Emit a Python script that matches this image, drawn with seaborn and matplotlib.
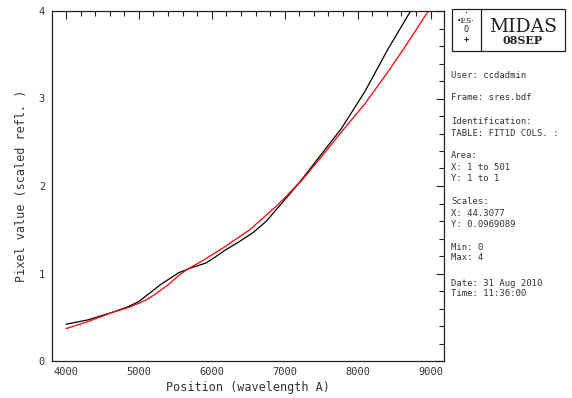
import matplotlib
matplotlib.use("Agg")
import matplotlib.pyplot as plt
from matplotlib.patches import Rectangle
import seaborn as sns
import pandas as pd
from matplotlib.ticker import MultipleLocator

# ---- data ----
black_x = [4000, 4300, 4650, 4850, 5000, 5100, 5200, 5300, 5400, 5550, 5700,
           5920, 6050, 6170, 6370, 6570, 6750, 6900, 7060, 7230, 7500, 7780,
           8100, 8420, 8720, 8800]
black_y = [0.42, 0.47, 0.56, 0.62, 0.68, 0.745, 0.81, 0.875, 0.93, 1.01, 1.06,
           1.12, 1.19, 1.26, 1.36, 1.47, 1.60, 1.745, 1.90, 2.07, 2.36, 2.66,
           3.08, 3.57, 3.99, 4.12]
red_x = [4000, 4300, 4650, 4850, 5000, 5100, 5200, 5300, 5400, 5475, 5550,
         5650, 5920, 6150, 6520, 6900, 7230, 7500, 7800, 8100, 8420, 8650,
         8970, 9000]
red_y = [0.37, 0.45, 0.56, 0.61, 0.66, 0.70, 0.75, 0.81, 0.87, 0.925, 0.98,
         1.04, 1.17, 1.29, 1.50, 1.78, 2.06, 2.33, 2.64, 2.94, 3.31, 3.59,
         4.00, 4.04]
x_ticks = [4000, 5000, 6000, 7000, 8000, 9000]
y_ticks = [0, 1, 2, 3, 4]
info_lines = [
    ("User: ccdadmin", 75),
    ("Frame: sres.bdf", 97),
    ("Identification:", 122),
    ("TABLE: FIT1D COLS. :", 133),
    ("Area:", 155),
    ("X: 1 to 501", 167),
    ("Y: 1 to 1", 178),
    ("Scales:", 202),
    ("X: 44.3077", 214),
    ("Y: 0.0969089", 225),
    ("Min: 0", 247),
    ("Max: 4", 258),
    ("Date: 31 Aug 2010", 283),
    ("Time: 11:36:00", 294),
]

df = pd.concat([
    pd.DataFrame({"x": black_x, "y": black_y, "s": "data"}),
    pd.DataFrame({"x": red_x, "y": red_y, "s": "fit"}),
])

sns.set_style("white")
plt.rcParams["font.family"] = ["DejaVu Sans Mono", "DejaVu Sans"]

W, H = 572, 398
fig = plt.figure(figsize=(W / 100, H / 100), dpi=100)
ax = fig.add_axes([52 / W, 37 / H, 392 / W, 350 / H])

sns.lineplot(data=df, x="x", y="y", hue="s", palette={"data": "black", "fit": "red"},
             linewidth=0.9, legend=False, ax=ax, sort=True, estimator=None)

ax.set_xlim(3808, 9185)
ax.set_ylim(0, 4)
ax.set_xticks(x_ticks)
ax.set_yticks(y_ticks)
ax.xaxis.set_minor_locator(MultipleLocator(200))
ax.yaxis.set_minor_locator(MultipleLocator(0.2))
ax.tick_params(which="both", direction="in", top=True, right=True,
               color="#222222", width=0.8)
ax.tick_params(which="major", length=6)
ax.tick_params(which="minor", length=3.5)
ax.tick_params(axis="x", which="major", labelsize=7.5, pad=4, labelcolor="#333333")
ax.tick_params(axis="y", which="major", labelsize=7.5, pad=5, labelcolor="#333333")
for sp in ax.spines.values():
    sp.set_color("#222222")
    sp.set_linewidth(0.9)

ax.set_xlabel("Position (wavelength A)", fontsize=8.5, color="#333333", labelpad=3)
ax.set_ylabel("Pixel value (scaled refl. )", fontsize=8.5, color="#333333", labelpad=8)

# ---- MIDAS header box ----
def fx(px):
    return px / W

def fy(py):
    return 1 - py / H

fig.patches.append(Rectangle((fx(452), fy(51)), (565 - 452) / W, (51 - 9) / H,
                             transform=fig.transFigure, fill=False,
                             edgecolor="#222222", linewidth=0.9))
fig.add_artist(plt.Line2D([fx(481), fx(481)], [fy(9), fy(51)],
                          transform=fig.transFigure, color="#222222", linewidth=0.9))
fig.text(fx(523), fy(27), "MIDAS", family="DejaVu Serif", fontsize=13.5,
         ha="center", va="center", color="#222222")
fig.text(fx(523), fy(40), "08SEP", family="DejaVu Serif", fontsize=8,
         fontweight="bold", ha="center", va="center", color="#222222")
fig.text(fx(466), fy(14), "·", fontsize=6, ha="center", va="center", color="#222222")
fig.text(fx(466), fy(21), "•ES·", family="DejaVu Serif", fontsize=5.5,
         ha="center", va="center", color="#222222")
fig.text(fx(466), fy(30), "O", fontsize=6, ha="center", va="center", color="#222222")
fig.text(fx(466), fy(40), "+", fontsize=6.5, fontweight="bold", ha="center",
         va="center", color="#222222")

for txt, py in info_lines:
    fig.text(fx(451), fy(py), txt, fontsize=6.4, ha="left", va="center",
             color="#333333")

fig.savefig("out.png", dpi=100)
